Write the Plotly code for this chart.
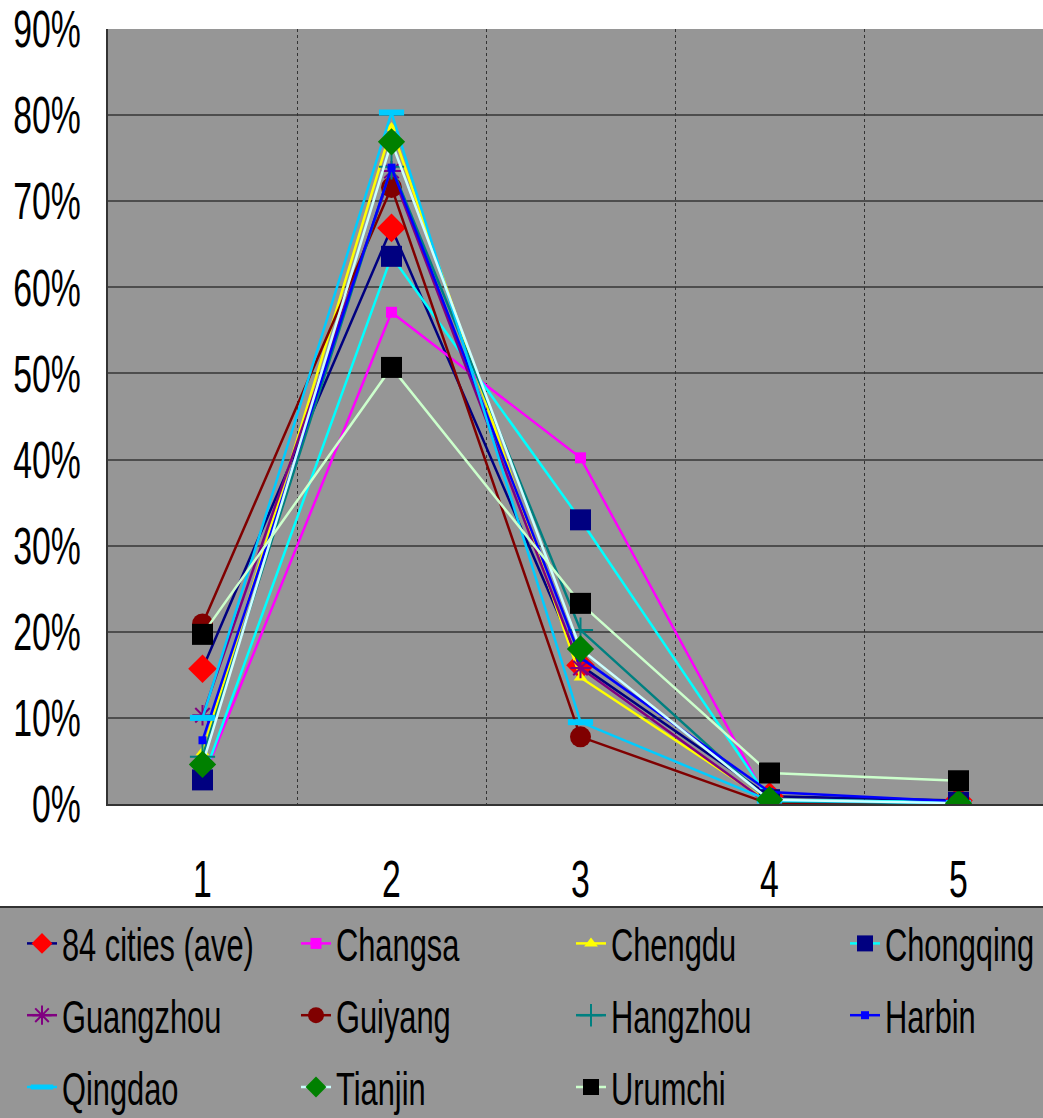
import plotly.graph_objects as go

# Categories on the horizontal axis
categories = [1, 2, 3, 4, 5]

# Share of each class per city (fractions)
ave_84 = [0.157, 0.669, 0.161, 0.009, 0.004]
changsa = [0.028, 0.571, 0.402, 0.0, 0.0]
chengdu = [0.060, 0.785, 0.147, 0.002, 0.0]
chongqing = [0.028, 0.636, 0.330, 0.005, 0.002]
guangzhou = [0.103, 0.735, 0.158, 0.0, 0.0]
guiyang = [0.209, 0.716, 0.078, 0.0, 0.0]
hangzhou = [0.055, 0.740, 0.202, 0.003, 0.001]
harbin = [0.074, 0.739, 0.170, 0.014, 0.003]
qingdao = [0.100, 0.803, 0.095, 0.004, 0.001]
tianjin = [0.046, 0.769, 0.180, 0.005, 0.001]
urumchi = [0.197, 0.507, 0.233, 0.036, 0.027]

y_ticks = [0, 0.1, 0.2, 0.3, 0.4, 0.5, 0.6, 0.7, 0.8, 0.9]

FONT = "Liberation Sans, Arial, sans-serif"

series = [
    ("84 cities (ave)", ave_84, "#000080", dict(symbol="diamond", size=22, color="#FF0000")),
    ("Changsa", changsa, "#FF00FF", dict(symbol="square", size=11, color="#FF00FF")),
    ("Chengdu", chengdu, "#FFFF00", dict(symbol="triangle-up", size=12, color="#FFFF00")),
    ("Chongqing", chongqing, "#00FFFF", dict(symbol="square", size=21, color="#000080")),
    ("Guangzhou", guangzhou, "#800080", dict(symbol="asterisk-open", size=17, color="#800080",
                                             line=dict(color="#800080", width=2))),
    ("Guiyang", guiyang, "#800000", dict(symbol="circle", size=21, color="#800000")),
    ("Hangzhou", hangzhou, "#008080", dict(symbol="cross-thin-open", size=18, color="#008080",
                                           line=dict(color="#008080", width=2))),
    ("Harbin", harbin, "#0000FF", dict(symbol="square", size=8, color="#0000FF")),
    ("Qingdao", qingdao, "#00CCFF", dict(symbol="line-ew-open", size=18, color="#00CCFF",
                                         line=dict(color="#00CCFF", width=6))),
    ("Tianjin", tianjin, "#CCFFFF", dict(symbol="diamond", size=21, color="#008000")),
    ("Urumchi", urumchi, "#CCFFCC", dict(symbol="square", size=21, color="#000000")),
]

# Legend is laid out as four columns, filled row by row
legend_cols = ["legend", "legend2", "legend3", "legend4"]

fig = go.Figure()
for i, (name, vals, line_color, marker) in enumerate(series):
    fig.add_trace(go.Scatter(
        x=categories, y=vals, name=name, mode="lines+markers",
        line=dict(color=line_color, width=2.5),
        marker=marker,
        legend=legend_cols[i % 4],
        legendgroup=name,
    ))

# Plot area in pixels: x 108..1043, y 29..804
PX_L, PX_R, PX_T, PX_B = 108, 1043, 29, 804


def paper_x(px):
    return (px - PX_L) / (PX_R - PX_L)


def paper_y(py):
    return (PX_B - py) / (PX_B - PX_T)


# Legend background panel below the plot
fig.add_shape(type="rect", xref="paper", yref="paper",
              x0=paper_x(-2), x1=paper_x(1045), y0=paper_y(1120), y1=paper_y(907),
              fillcolor="#969696", line=dict(color="#333333", width=2), layer="below")

legend_common = dict(
    orientation="v", xref="paper", yref="paper", xanchor="left", yanchor="top",
    y=paper_y(907), bgcolor="rgba(0,0,0,0)", borderwidth=0,
    font=dict(family=FONT, size=46, color="#000000"),
    traceorder="grouped", tracegroupgap=9, itemsizing="trace",
)
col_x = [22, 296, 571, 845]

fig.update_layout(
    width=1043, height=1118,
    margin=dict(l=PX_L, r=1043 - PX_R, t=PX_T, b=1118 - PX_B, autoexpand=False),
    paper_bgcolor="#FFFFFF", plot_bgcolor="#969696",
    font=dict(family=FONT, size=52, color="#000000"),
    legend=dict(legend_common, x=paper_x(col_x[0])),
    legend2=dict(legend_common, x=paper_x(col_x[1])),
    legend3=dict(legend_common, x=paper_x(col_x[2])),
    legend4=dict(legend_common, x=paper_x(col_x[3])),
    xaxis=dict(
        range=[0.5, 0.5 + (PX_R - PX_L) / 189], tickvals=categories,
        ticktext=[str(c) for c in categories],
        showgrid=False, zeroline=False, showline=True, linecolor="#333333", linewidth=2,
        ticks="", ticklabelstandoff=29, automargin=False,
        tickfont=dict(family=FONT, size=52, color="#000000"),
    ),
    xaxis2=dict(
        overlaying="x", matches="x", range=[0.5, 0.5 + (PX_R - PX_L) / 189],
        tickvals=[1.5, 2.5, 3.5, 4.5], showticklabels=False, showgrid=True,
        gridcolor="#333333", gridwidth=1, griddash="dot", zeroline=False, ticks="",
        automargin=False,
    ),
    yaxis=dict(
        range=[0, 0.9], tickvals=y_ticks, tickformat=".0%",
        showgrid=True, gridcolor="#4d4d4d", gridwidth=1.5, zeroline=False,
        showline=True, linecolor="#333333", linewidth=1.5, ticks="",
        ticklabelstandoff=15, automargin=False,
        tickfont=dict(family=FONT, size=52, color="#000000"),
    ),
    showlegend=True,
)

# Invisible trace so the overlay axis (vertical dotted grid) is rendered
fig.add_trace(go.Scatter(x=[1], y=[0], xaxis="x2", mode="markers",
                         marker=dict(opacity=0), showlegend=False, hoverinfo="skip"))

# Narrow the lettering horizontally: legend entries (one text class per legend)
# through a stylesheet rule, tick labels by extending their transform
legend_text_sel = ", ".join("." + lg + "text" for lg in legend_cols)
condense_js = """
var style = document.createElement('style');
style.textContent = '%s { transform-box: fill-box; transform-origin: 0%% 50%%; transform: scaleX(0.67); }';
document.head.appendChild(style);
var gd = document.getElementById('{plot_id}');
function condense() {
    gd.querySelectorAll('.xtick text, .ytick text').forEach(function (t) {
        var cur = t.getAttribute('transform') || '';
        if (t.__condensed && cur === t.__condensed) return;
        var x = parseFloat(t.getAttribute('x') || 0);
        var y = parseFloat(t.getAttribute('y') || 0);
        var nt = cur + ' translate(' + x + ',' + y + ') scale(0.65,1) translate(' + (-x) + ',' + (-y) + ')';
        t.setAttribute('transform', nt);
        t.__condensed = nt;
    });
}
condense();
gd.on('plotly_afterplot', condense);
setTimeout(condense, 0);
setTimeout(condense, 50);
setTimeout(condense, 200);
""" % legend_text_sel

fig.write_html("out.html", post_script=condense_js)
